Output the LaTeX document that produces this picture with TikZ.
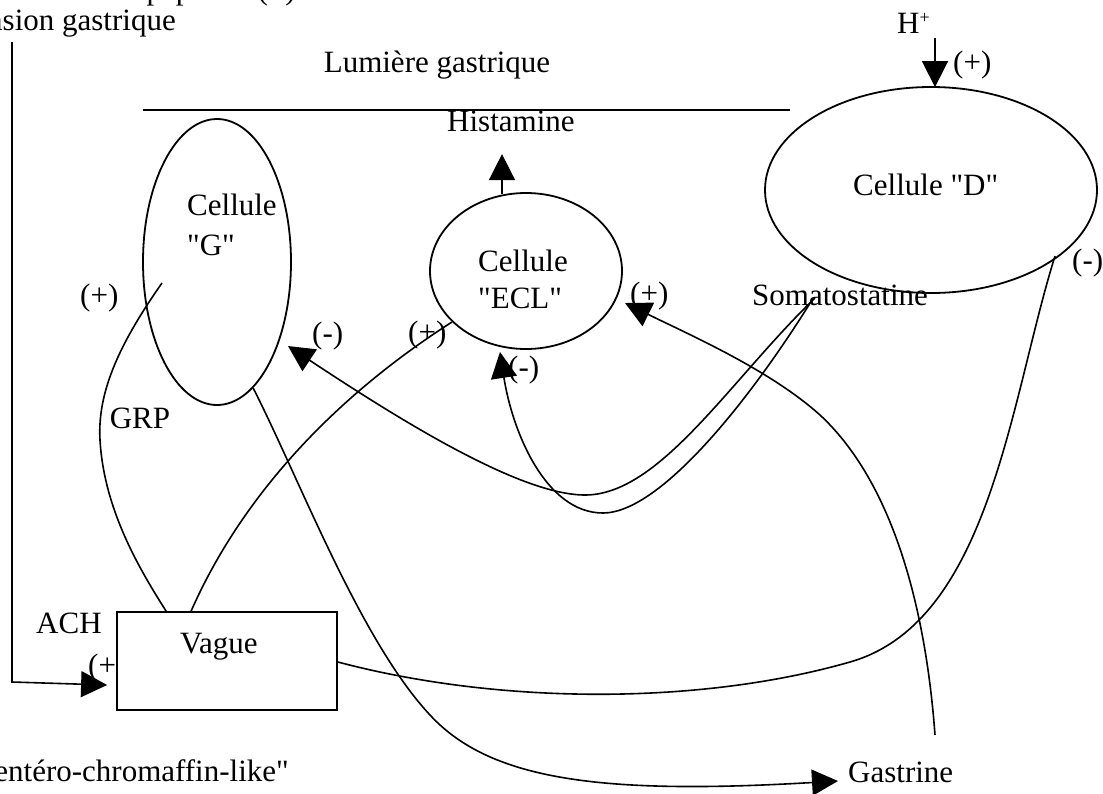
\documentclass[tikz,border=0pt]{standalone}
\usepackage{fontspec}
\newfontfamily\txtfont{Liberation Serif}
\usetikzlibrary{arrows.meta,shapes.geometric,calc}

\begin{document}
\begin{tikzpicture}[x=1pt,y=-1pt,
  every node/.style={font=\txtfont\fontsize{31}{36}\selectfont, inner sep=0pt},
  cell/.style={draw, ellipse, line width=1.8pt, inner sep=0pt},
  link/.style={line width=1.6pt},
  arr/.style={link, -{Triangle[length=26pt,width=26pt]}},
  txt/.style={anchor=base west},
]
\useasboundingbox (0,0) rectangle (1103,793);
\clip (0,0) rectangle (1103,793);

% lumen and its captions
\node[anchor=base] (lum) at (437,72) {Lumière gastrique};
\draw[link] (143,110) -- (790,110);
\node[anchor=base east] (pep) at (296,-1) {peptides (+)};
\node[anchor=base east] (dist) at (176,30) {Distension gastrique};
\node[anchor=base east] (ecldef) at (289,781) {"entéro-chromaffin-like"};

% cells
\node[cell, minimum width=148pt, minimum height=286pt] (G) at (217,262) {};
\node[cell, minimum width=192pt, minimum height=156pt] (E) at (526,271) {};
\node[cell, minimum width=332pt, minimum height=206pt] (D) at (931,190) {};

\node[txt] (gt1) at (187,215) {Cellule};
\node[txt] (gt2) at (187,255) {"G"};
\node[txt] (et1) at (478,271) {Cellule};
\node[txt] (et2) at (478,308) {"ECL"};
\node[txt] (dt) at (853,195) {Cellule "D"};

% other captions
\node[txt] (hist) at (447,131) {Histamine};
\node[txt] (hp) at (897,33) {H\raisebox{10pt}{\fontsize{18}{20}\selectfont +}};
\node[txt] (som) at (752,305) {Somatostatine};
\node[txt] (gas) at (848,782) {Gastrine};
\node[anchor=center] (grp) at (140,418) {GRP};
\node[txt] (ach) at (36,633) {ACH};

% signs
\node[txt] (sH) at (953,72) {(+)};
\node[txt] (sEr) at (630,303) {(+)};
\node[txt] (sEb) at (508,377) {(-)};
\node[txt] (sEl) at (408,342) {(+)};
\node[txt] (sGr) at (312,343) {(-)};
\node[txt] (sGl) at (80,305) {(+)};
\node[txt] (sD) at (1072,270) {(-)};
\node[txt] (sV) at (88,675) {(+)};

% vagus box
\node[draw, line width=1.8pt, fill=white, minimum width=220pt, minimum height=98pt] (V) at (227,661) {};
\node[txt] (vt) at (180,653) {Vague};

% free ends
\coordinate (distS) at (12,42);
\coordinate (gasS) at (935,735);

% connectors
\draw[arr] ($(D.north)+(4,-48)$) -- ($(D.north)+(4,1)$);
\draw[arr] ($(E.north)+(-24,2)$) -- ++(0,-40);
\draw[arr] (distS) -- (12,682) -- ($(V.west)+(-9,24)$);

\draw[link] ($(G.center)+(-55,21)$) .. controls (122,340) and (97,390) .. (100,440)
  .. controls (104,510) and (140,570) .. ($(V.north west)+(50,0)$);
\draw[link] ($(V.north west)+(75,0)$) .. controls (240,500) and (330,400) .. ($(E.center)+(-74,51)$);
\draw[arr] (G.-74) .. controls (300,480) and (360,640) .. (430,715)
  .. controls (490,780) and (600,795) .. ($(gas.base west)+(-10,-1)$);
\draw[link] ($(V.east)+(0,1)$) .. controls (500,705) and (700,705) .. (850,662)
  .. controls (990,622) and (1010,400) .. ($(D.center)+(124,66)$);
\draw[arr] ($(som.base west)+(63,-7)$) .. controls (730,380) and (660,495) .. (585,495)
  .. controls (520,495) and (400,420) .. ($(G.center)+(71,84)$);
\draw[arr] ($(som.base west)+(60,-5)$) .. controls (750,400) and (660,513) .. (603,513)
  .. controls (545,513) and (512,430) .. ($(E.center)+(-26,81)$);
\draw[arr] (gasS) .. controls (925,600) and (890,480) .. (820,415)
  .. controls (770,370) and (690,335) .. ($(E.center)+(99,32)$);
\end{tikzpicture}
\end{document}
